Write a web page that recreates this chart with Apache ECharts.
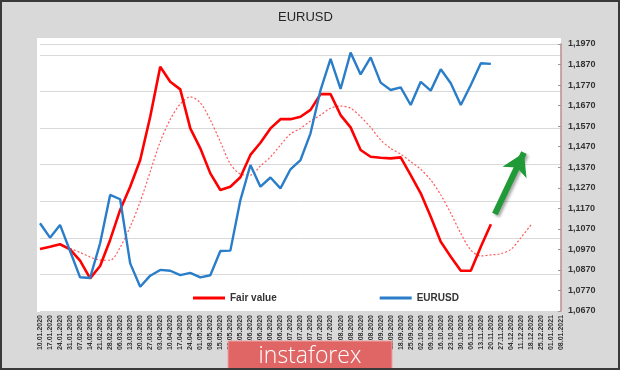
<!DOCTYPE html>
<html><head><meta charset="utf-8">
<script src="https://cdn.jsdelivr.net/npm/echarts@6/dist/echarts.min.js"></script>
<style>html,body{margin:0;padding:0;background:#d9d9d9}#c{width:620px;height:370px}</style>
</head><body><div id="c"></div>
<script>
const dates = ["10.01.2020","17.01.2020","24.01.2020","31.01.2020","07.02.2020","14.02.2020","21.02.2020","28.02.2020","06.03.2020","13.03.2020","20.03.2020","27.03.2020","03.04.2020","10.04.2020","17.04.2020","24.04.2020","01.05.2020","08.05.2020","15.05.2020","22.05.2020","29.05.2020","05.06.2020","12.06.2020","19.06.2020","26.06.2020","03.07.2020","10.07.2020","17.07.2020","24.07.2020","31.07.2020","07.08.2020","14.08.2020","21.08.2020","28.08.2020","04.09.2020","11.09.2020","18.09.2020","25.09.2020","02.10.2020","09.10.2020","16.10.2020","23.10.2020","30.10.2020","06.11.2020","13.11.2020","20.11.2020","27.11.2020","04.12.2020","11.12.2020","18.12.2020","25.12.2020","01.01.2021","08.01.2021"];

const fairValue = [1.0972,1.0983,1.0995,1.0970,1.0915,1.0829,1.0889,1.1016,1.1162,1.1275,1.1405,1.1616,1.1859,1.1786,1.1749,1.1559,1.1462,1.1340,1.1259,1.1275,1.1321,1.1430,1.1489,1.1559,1.1604,1.1604,1.1616,1.1649,1.1726,1.1726,1.1624,1.1564,1.1454,1.1421,1.1416,1.1413,1.1418,1.1332,1.1243,1.1129,1.1007,1.0934,1.0866,1.0866,1.0983,1.1092];

const eurusd = [1.1097,1.1027,1.1089,1.0962,1.0834,1.0831,1.1000,1.1235,1.1214,1.0902,1.0788,1.0842,1.0870,1.0866,1.0845,1.0856,1.0834,1.0844,1.0962,1.0964,1.1210,1.1381,1.1275,1.1320,1.1267,1.1360,1.1405,1.1535,1.1746,1.1897,1.1751,1.1928,1.1822,1.1905,1.1782,1.1746,1.1759,1.1673,1.1786,1.1743,1.1847,1.1779,1.1673,1.1770,1.1876,1.1873];

const fairValueMA = [null,null,null,1.0975,1.0955,1.0933,1.0918,1.0917,1.0980,1.1080,1.1202,1.1348,1.1494,1.1603,1.1678,1.1713,1.1684,1.1600,1.1494,1.1386,1.1337,1.1332,1.1376,1.1420,1.1478,1.1532,1.1559,1.1595,1.1624,1.1657,1.1668,1.1657,1.1616,1.1564,1.1503,1.1462,1.1434,1.1397,1.1360,1.1308,1.1235,1.1146,1.1048,1.0967,1.0938,1.0943,1.0949,1.0970,1.1027,1.1089];

const arrowStart = [45.4, 1.1142];
const arrowEnd = [48.3, 1.1441];

const toPairs = arr => arr.map((v, i) => [i, v]).filter(p => p[1] != null);
const F = '"Liberation Sans", Arial, sans-serif';

const chart = echarts.init(document.getElementById('c'), null, {renderer: 'canvas'});
chart.setOption({
  backgroundColor: '#d9d9d9',
  animation: false,
  textStyle: {fontFamily: F},
  title: {text: 'EURUSD', left: 278, top: 11, padding: 0,
    textStyle: {fontSize: 13, fontWeight: 'normal', color: '#262626', fontFamily: F}},
  legend: {left: 188, top: 288, itemWidth: 32, itemHeight: 3, itemGap: 103, icon: 'rect',
    data: ['Fair value', 'EURUSD'],
    textStyle: {fontSize: 10, fontWeight: 'bold', color: '#333', fontFamily: F}},
  grid: {left: 40, right: 59, top: 44, bottom: 59, show: false},
  xAxis: {type: 'value', min: 0, max: 52, interval: 1,
    axisLine: {show: false, onZero: false},
    axisTick: {show: false}, splitLine: {show: false},
    axisLabel: {rotate: 90, fontSize: 7, fontWeight: 'bold', color: '#333', margin: 4,
      fontFamily: F, formatter: v => dates[Math.round(v)] || ''}},
  yAxis: [
    {type: 'value', position: 'right', min: 1.067, max: 1.197, interval: 0.01,
      axisLine: {show: true, onZero: false, lineStyle: {color: '#bb8c8c', width: 1.5}},
      axisTick: {show: true, inside: true, length: 3, lineStyle: {color: '#999'}},
      splitLine: {show: false},
      axisLabel: {margin: 7, fontSize: 9, fontWeight: 'bold', color: '#333', fontFamily: F,
        formatter: v => v.toFixed(4).replace('.', ',')}},
    {type: 'value', position: 'left', min: 0, max: 7.3, interval: 1,
      axisLine: {show: false, onZero: false}, axisTick: {show: false}, axisLabel: {show: false},
      splitLine: {show: true, lineStyle: {color: '#d9d9d9', width: 1}}}
  ],
  graphic: [
    {type: 'rect', z: -100, shape: {x: 37, y: 38, width: 524, height: 274}, style: {fill: '#ffffff'}},
    {type: 'rect', z: 100, shape: {x: 228, y: 341, width: 164, height: 30}, style: {fill: '#e06666', stroke: '#eea0a0', lineWidth: 1}},
    {type: 'text', z: 101, x: 310, y: 356, style: {text: 'instaforex', fill: '#ffffff', fontSize: 23, fontFamily: '"Open Sans", sans-serif', fontWeight: 300, textAlign: 'center', textVerticalAlign: 'middle', align: 'center', verticalAlign: 'middle'}},
    {type: 'rect', z: 100, shape: {x: 1, y: 1, width: 618, height: 368}, style: {fill: 'none', stroke: '#3a3a3a', lineWidth: 2}}
  ],
  series: [
    {name: 'Fair value MA', type: 'line', yAxisIndex: 0, data: toPairs(fairValueMA), symbol: 'none', smooth: 0.3,
      lineStyle: {color: '#ff5a5a', width: 1.2, type: [2, 2]}, z: 1},
    {name: 'Fair value', type: 'line', yAxisIndex: 0, data: toPairs(fairValue), symbol: 'none',
      itemStyle: {color: '#ff0000'}, lineStyle: {color: '#ff0000', width: 2.6}, z: 2},
    {name: 'EURUSD', type: 'line', yAxisIndex: 0, data: toPairs(eurusd), symbol: 'none',
      itemStyle: {color: '#2a7dc9'}, lineStyle: {color: '#2a7dc9', width: 2.4}, z: 3},
    {name: 'arrow', type: 'line', yAxisIndex: 0, data: [arrowStart, arrowEnd], symbol: 'none',
      lineStyle: {opacity: 0}, z: 4,
      markLine: {silent: true, symbol: ['none', 'arrow'], symbolSize: [20, 22],
        label: {show: false},
        lineStyle: {color: '#1f9a36', width: 6, type: 'solid', shadowBlur: 3, shadowColor: 'rgba(0,0,0,0.35)', shadowOffsetX: 2, shadowOffsetY: 2},
        data: [[{coord: arrowStart}, {coord: arrowEnd}]]}}
  ]
});
</script></body></html>
